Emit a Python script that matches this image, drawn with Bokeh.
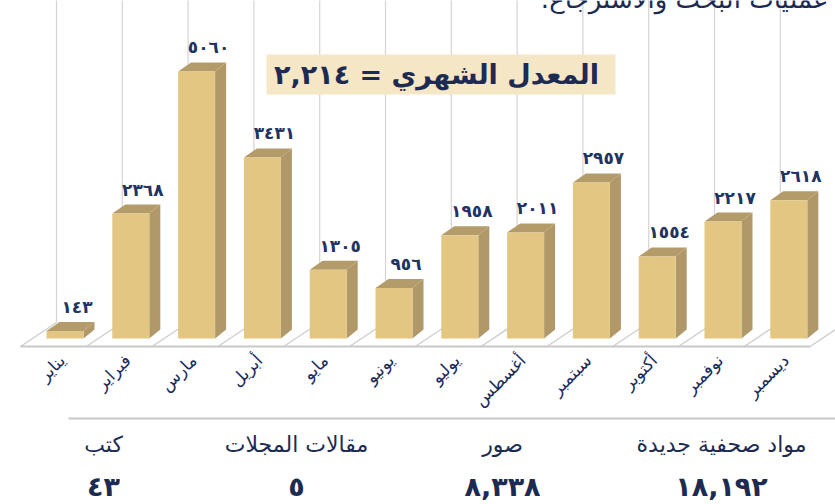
import numpy as np
from bokeh.plotting import figure
from bokeh.models import ColumnDataSource, Range1d
from bokeh.core.properties import value
from bokeh.embed import file_html
from bokeh.resources import INLINE

# ---------------- data ----------------
months = ["يناير", "فبراير", "مارس", "أبريل", "مايو", "يونيو",
          "يوليو", "أغسطس", "سبتمبر", "أكتوبر", "نوفمبر", "ديسمبر"]
values = [143, 2368, 5060, 3431, 1305, 956, 1958, 2011, 2957, 1554, 2217, 2618]

stat_labels = ["مواد صحفية جديدة", "صور", "مقالات المجلات", "كتب"]
stat_values = [18192, 8338, 5, 43]

heading = "عمليات البحث والاسترجاع:\u200f"
avg_label = "المعدل الشهري = "

AR_DIGITS = str.maketrans("0123456789", "٠١٢٣٤٥٦٧٨٩")


def ar(n, sep=False):
    s = f"{n:,}" if sep else f"{n}"
    return s.translate(AR_DIGITS)


# ---------------- layout constants (canvas pixels) ----------------
W, H = 835, 504
CAT_PX = 65.8          # px per category
VAL_PX = 0.05277       # px per value unit
X0_PX = 64.5           # canvas x of first bar centre
Y0_PX = 338.0          # canvas y of value 0

def px2x(px):
    return (px - X0_PX) / CAT_PX

def px2y(py):
    return (Y0_PX - py) / VAL_PX

FONT = value("DejaVu Sans")
NAVY = "#1d2b52"

p = figure(width=W, height=H, output_backend="svg", toolbar_location=None,
           x_range=Range1d(px2x(0), px2x(W)), y_range=Range1d(px2y(H), px2y(0)),
           min_border=0, x_axis_location=None, y_axis_location=None,
           background_fill_color="white", border_fill_color="white")
p.outline_line_color = None
p.xgrid.visible = False
p.ygrid.visible = False

n = len(values)
idx = np.arange(n)
v = np.array(values, dtype=float)

# bar geometry in data units
bw = 37 / CAT_PX
bdx_r = 11 / CAT_PX
bdx_l = 13 / CAT_PX
bdy = 9 / VAL_PX

# floor geometry
floor_front_y = px2y(346)
floor_back_y = px2y(322)
fdx = 36 / CAT_PX
k = np.arange(n + 1)
front_x = px2x(20) + k
back_x = front_x + fdx

# back wall vertical lines
p.segment(x0=back_x, y0=[floor_back_y] * len(k), x1=back_x, y1=[px2y(-20)] * len(k),
          line_color="#d4d4d4", line_width=1.2)
# floor diagonals
p.segment(x0=front_x, y0=[floor_front_y] * len(k), x1=back_x, y1=[floor_back_y] * len(k),
          line_color="#cfcfcf", line_width=1.5)
# floor front edge
p.segment(x0=[front_x[0]], y0=[floor_front_y], x1=[front_x[-1]], y1=[floor_front_y],
          line_color="#c8c8c8", line_width=2)

# bars
src = ColumnDataSource(dict(
    x=idx, top=v,
    side_xs=[[i + bw / 2, i + bw / 2 + bdx_r, i + bw / 2 + bdx_r, i + bw / 2] for i in idx],
    side_ys=[[0, bdy, val + bdy, val] for val in v],
    top_xs=[[i - bw / 2, i + bw / 2, i + bw / 2 + bdx_r, i - bw / 2 + bdx_l] for i in idx],
    top_ys=[[val, val, val + bdy, val + bdy] for val in v],
    lbl=[ar(int(val)) for val in v],
    lbl_y=v + bdy,
    month=months,
))
p.patches("side_xs", "side_ys", source=src, fill_color="#b09868", line_color=None)
p.patches("top_xs", "top_ys", source=src, fill_color="#b39b6a", line_color=None)
p.vbar(x="x", top="top", bottom=0, width=bw, source=src, fill_color="#e3c681", line_color=None)

# value labels
p.text(x="x", y="lbl_y", text="lbl", source=src, x_offset=12, y_offset=-15,
       text_align="center", text_baseline="middle", text_font=FONT,
       text_font_size="17px", text_font_style="bold", text_color="#1f3460")

# month labels (rotated 45°)
p.text(x="x", y=px2y(357), text="month", source=src, x_offset=-3,
       angle=np.pi / 4, text_align="right", text_baseline="middle",
       text_font=FONT, text_font_size="17px", text_color="#1a2c5a")

# title box with monthly average
avg = int(sum(values) / len(values))
p.quad(left=[px2x(266)], right=[px2x(615)], top=[px2y(54)], bottom=[px2y(94)],
       fill_color="#f5e6c6", line_color=None)
p.text(x=[px2x(436)], y=[px2y(74)], text=[avg_label + ar(avg, sep=True)],
       text_align="center", text_baseline="middle", text_font=FONT,
       text_font_size="27px", text_font_style="bold", text_color=NAVY)

# heading (cut at the top, as in the source image)
p.text(x=[px2x(540)], y=[px2y(-2)], text=[heading], text_align="left",
       text_baseline="alphabetic", text_font=FONT, text_font_size="26px", text_color=NAVY)

# separator line
p.segment(x0=[px2x(68)], y0=[px2y(418)], x1=[px2x(W + 5)], y1=[px2y(418)],
          line_color="#c8c8c8", line_width=2)

# statistics row
stat_x = [px2x(c) for c in (721, 502, 296, 103)]
p.text(x=stat_x, y=[px2y(444)] * 4, text=stat_labels, text_align="center",
       text_baseline="middle", text_font=FONT, text_font_size="22px", text_color=NAVY)
p.text(x=stat_x, y=[px2y(486)] * 4, text=[ar(s, sep=True) for s in stat_values],
       text_align="center", text_baseline="middle", text_font=FONT,
       text_font_size="27px", text_font_style="bold", text_color=NAVY)

open("out.html", "w").write(file_html(p, INLINE))
